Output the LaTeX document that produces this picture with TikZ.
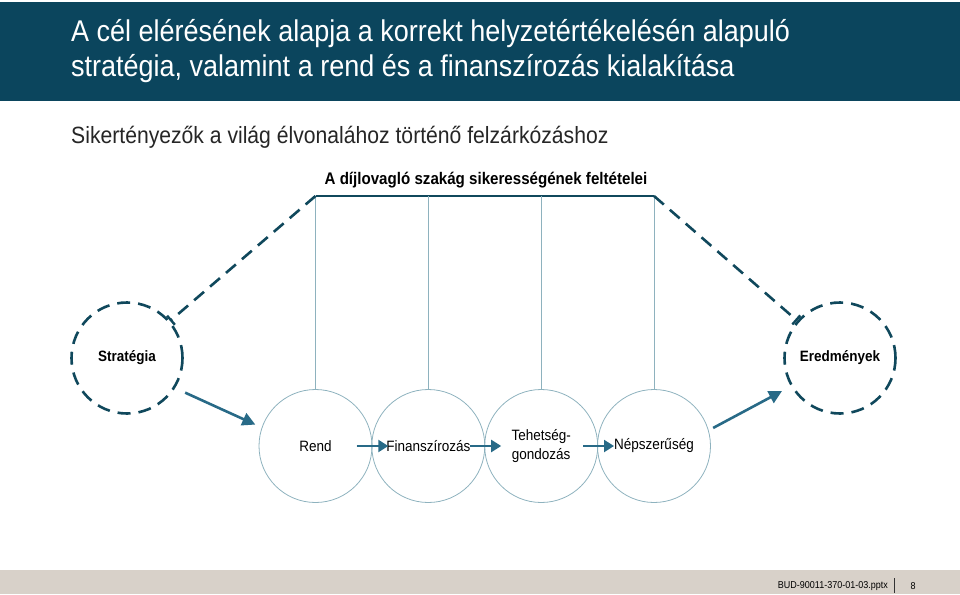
\documentclass[tikz,border=0pt]{standalone}
\usepackage{fontspec}
\setmainfont{Liberation Sans}[FakeStretch=0.9]
\usepackage{xcolor}
\usetikzlibrary{positioning, arrows.meta, calc}
\definecolor{headbg}{RGB}{11,69,93}
\definecolor{darkteal}{RGB}{16,72,92}
\definecolor{arrowteal}{RGB}{40,106,135}
\definecolor{thinline}{RGB}{142,178,190}
\definecolor{footbg}{RGB}{216,209,201}

\begin{document}
\begin{tikzpicture}[
  x=1pt, y=-1pt,
  dashcirc/.style={circle, draw=darkteal, line width=2.6pt,
                   dash pattern=on 13pt off 8pt, minimum size=111pt,
                   inner sep=0pt, font=\bfseries\fontsize{15}{17}\selectfont},
  stage/.style={circle, draw=thinline, line width=0.8pt, minimum size=113pt,
                inner sep=0pt, align=center, font=\fontsize{15}{19}\selectfont},
  dashline/.style={draw=darkteal, line width=2.6pt, dash pattern=on 13pt off 8pt},
  flow/.style={-{Triangle[length=13pt, width=13pt]}, draw=arrowteal, fill=arrowteal, line width=2.6pt},
  hop/.style={-{Triangle[length=10pt, width=12pt]}, draw=arrowteal, fill=arrowteal, line width=2.2pt},
  thin/.style={draw=thinline, line width=0.8pt},
]
\useasboundingbox (0,0) rectangle (960,594);

% Header and footer bars
\fill[headbg] (0,2) rectangle (960,101);
\fill[footbg] (0,570) rectangle (960,594);
\node[anchor=west, inner sep=0pt, text=white, align=left, font=\fontsize{30}{35}\selectfont] (title) at (71,51)
  {A cél elérésének alapja a korrekt helyzetértékelésén alapuló\\stratégia, valamint a rend és a finanszírozás kialakítása};
\node[anchor=west, inner sep=0pt, text=black!85, font=\fontsize{23.5}{26}\selectfont] (sub) at (71,137)
  {Sikertényezők a világ élvonalához történő felzárkózáshoz};

% Trapezoid top
\node[font=\bfseries\fontsize{16.8}{19}\selectfont] (cond) at (486,180)
  {A díjlovagló szakág sikerességének feltételei};
\coordinate (tl) at (315.5,196);
\coordinate (tr) at (654,196);
\draw[draw=darkteal, line width=2.6pt] (tl) -- (tr);

% Side circles
\node[dashcirc] (strat)  at (127,358) {Stratégia};
\node[dashcirc] (result) at (840,358) {Eredmények};

% Bottom row of stages
\node[stage] (rend) at (315.5,446) {Rend};
\node[stage] (fin)  at (428.3,446) {Finanszírozás};
\node[stage] (tal)  at (541.2,446) {Tehetség-\\gondozás};
\node[stage] (pop)  at (654,446)   {Népszerűség};

% Vertical links from the top bar
\foreach \n in {rend, fin, tal, pop}
  \draw[thin] (\n.north |- tl) -- (\n.north);

% Dashed sides
\draw[dashline, -{Bar[width=12pt, line width=2.4pt]}] (tl) -- (strat);
\draw[dashline, -{Bar[width=12pt, line width=2.4pt]}] (tr) -- (result);

% Flow arrows
\draw[flow, shorten <=11pt, shorten >=7pt] (strat.-32) -- (rend.161);
\draw[flow, shorten <=5pt, shorten >=10pt] (pop.16) -- (result.-150);
\draw[hop] ($(rend.center)+(41,0)$) -- ($(fin.center)+(-40,0)$);
\draw[hop] ($(fin.center)+(42,0)$) -- ($(tal.center)+(-40,0)$);
\draw[hop] ($(tal.center)+(42,0)$) -- ($(pop.center)+(-40,0)$);

% Footer text
\node[anchor=east, inner sep=0pt, font=\fontsize{10}{12}\selectfont] (file) at (888,586) {BUD-90011-370-01-03.pptx};
\draw[black!80, line width=0.8pt] (894,578) -- (894,593);
\node[font=\fontsize{10}{12}\selectfont] (page) at (913,586) {8};
\end{tikzpicture}
\end{document}
